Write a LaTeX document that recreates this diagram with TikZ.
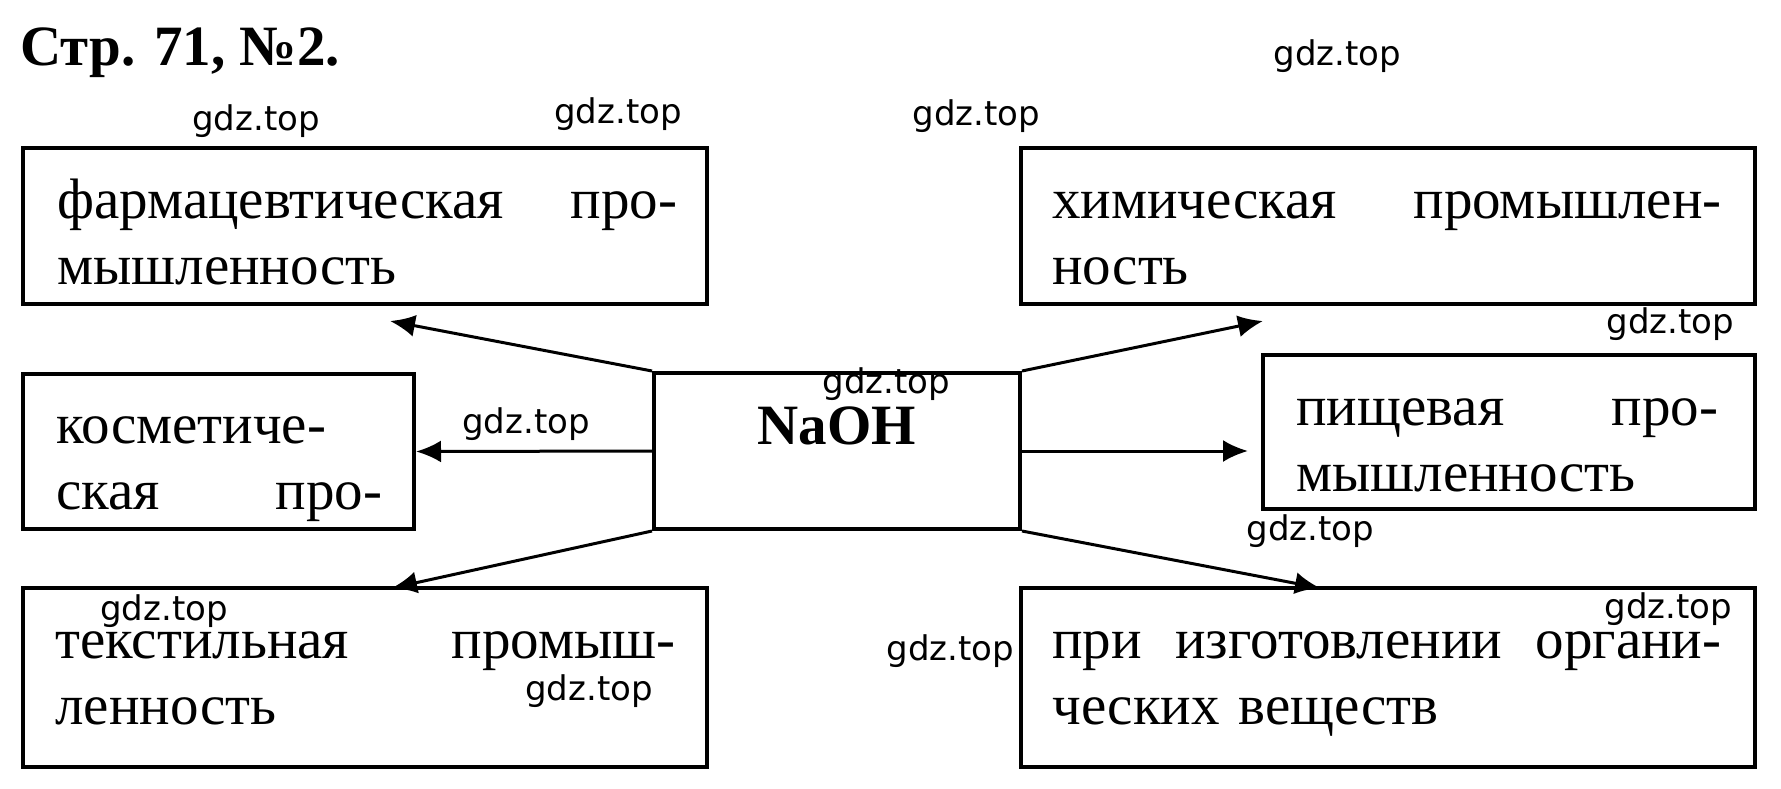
\documentclass[tikz,border=0pt]{standalone}
\usepackage{fontspec}
\setmainfont{Liberation Serif}
\newfontfamily\wmfont{DejaVu Sans}
\usepackage{tikz}
\usetikzlibrary{arrows.meta}
\tikzstyle{box}=[draw,line width=2pt,inner sep=0pt]
\tikzstyle{edge}=[draw,line width=1.5pt,-{Latex[length=12.5pt,width=11pt]}]
\tikzstyle{txt}=[inner sep=0pt,anchor=base west,align=left,font=\fontsize{28.5}{33}\selectfont]
\tikzstyle{wmark}=[inner sep=0pt,anchor=base west,font=\wmfont\fontsize{17}{20}\selectfont]

\begin{document}
\begin{tikzpicture}[x=0.5pt,y=-0.5pt]
      \path[use as bounding box,fill=white] (0,0) rectangle (1781,788);
      \node[txt,font=\fontsize{28.5}{33}\selectfont\bfseries] (title) at (20,65) {Стр. 71, №2.};
      \node[box,minimum width=342pt,minimum height=78pt] (pharma) at (365,226) {};
      \node[box,minimum width=367pt,minimum height=78pt] (chem) at (1388,226) {};
      \node[box,minimum width=195.5pt,minimum height=77.5pt] (cosm) at (218.5,451.5) {};
      \node[box,minimum width=183pt,minimum height=78pt] (naoh) at (837,451) {};
      \node[box,minimum width=246pt,minimum height=77pt] (food) at (1509,432) {};
      \node[box,minimum width=342pt,minimum height=89.5pt] (textile) at (365,677.5) {};
      \node[box,minimum width=367pt,minimum height=89.5pt] (organic) at (1388,677.5) {};
      \node[txt,text width=310pt] (pharmaT) at (57,218) {фармацевтическая \hfill про-\\мышленность};
      \node[txt,text width=334.5pt] (chemT) at (1052,218) {химическая \hfill промышлен-\\ность};
      \node[txt,text width=163pt] (cosmT) at (56,443) {косметиче-\\ская \hfill про-};
      \node[txt,text width=211pt] (foodT) at (1296,425) {пищевая \hfill про-\\мышленность};
      \node[txt,text width=310pt] (textileT) at (55,658) {текстильная \hfill промыш-\\ленность};
      \node[txt,text width=334.5pt] (organicT) at (1052,658) {при \hfill изготовлении \hfill органи-\\ческих веществ};
      \node[inner sep=0pt,anchor=base,font=\fontsize{28.5}{33}\selectfont\bfseries] (naohT) at (837,444) {NaOH};
      \coordinate (pharmaIn) at (390,321);
      \coordinate (chemIn) at (1263,321);
      \coordinate (foodIn) at (1248,451);
      \coordinate (textileIn) at (392,588);
      \coordinate (organicIn) at (1320,588);
      \draw[edge] (naoh.north west) -- (pharmaIn);
      \draw[edge] (naoh.north east) -- (chemIn);
      \draw[edge] (naoh.west) -- (cosm.east);
      \draw[edge] (naoh.east) -- (foodIn);
      \draw[edge] (naoh.south west) -- (textileIn);
      \draw[edge] (naoh.south east) -- (organicIn);
      \node[wmark] (wm1) at (1273,65) {gdz.top};
      \node[wmark] (wm2) at (192,130) {gdz.top};
      \node[wmark] (wm3) at (554,123) {gdz.top};
      \node[wmark] (wm4) at (912,125) {gdz.top};
      \node[wmark] (wm5) at (1606,333) {gdz.top};
      \node[wmark] (wm6) at (822,393) {gdz.top};
      \node[wmark] (wm7) at (462,433) {gdz.top};
      \node[wmark] (wm8) at (1246,540) {gdz.top};
      \node[wmark] (wm9) at (100,620) {gdz.top};
      \node[wmark] (wm10) at (1604,618) {gdz.top};
      \node[wmark] (wm11) at (886,660) {gdz.top};
      \node[wmark] (wm12) at (525,700) {gdz.top};
    \end{tikzpicture}
\end{document}
